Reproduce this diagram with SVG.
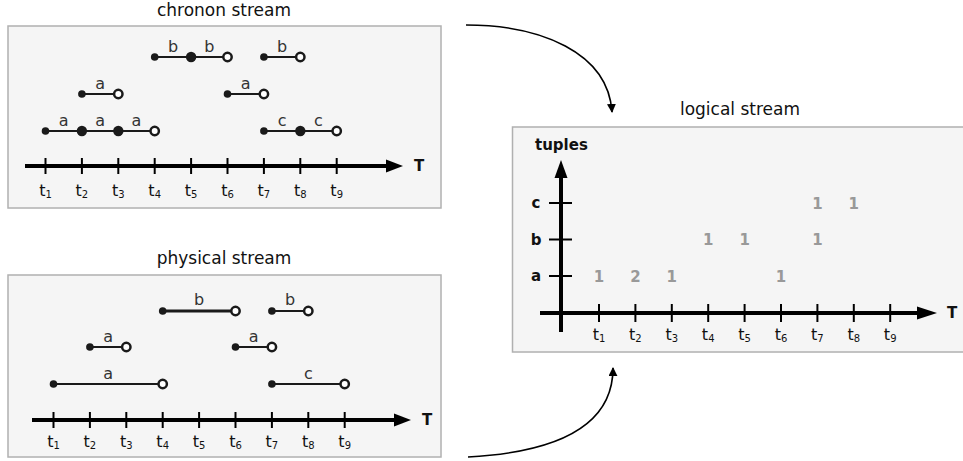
<svg xmlns="http://www.w3.org/2000/svg" width="963" height="461" viewBox="0 0 963 461">
<defs>
<style>
.panel{fill:#f5f5f5;stroke:#b0b0b0;stroke-width:1.5}
.title{font-family:"DejaVu Sans",Verdana,sans-serif;font-size:17px;fill:#111;text-anchor:middle}
.axis{stroke:#000;stroke-width:4;fill:none}
.tick{stroke:#000;stroke-width:2}
.tl{font-family:"DejaVu Sans",Verdana,sans-serif;font-size:16px;fill:#111;text-anchor:middle}
.sub{font-size:10px}
.seg{stroke:#1a1a1a;stroke-width:2;fill:none}
.segt{stroke:#1a1a1a;stroke-width:3;fill:none}
.dot{fill:#1a1a1a}
.open{fill:#fff;stroke:#1a1a1a;stroke-width:2.5}
.lab{font-family:"DejaVu Sans",Verdana,sans-serif;font-size:16px;fill:#333;text-anchor:middle}
.bold{font-family:"DejaVu Sans",Verdana,sans-serif;font-size:15px;font-weight:bold;fill:#111}
.num{font-family:"DejaVu Sans",Verdana,sans-serif;font-size:15px;font-weight:bold;fill:#999;text-anchor:middle}
.flow{stroke:#000;stroke-width:1.6;fill:none}
</style>
<marker id="ah" viewBox="0 0 10 10" refX="9" refY="5" markerWidth="9" markerHeight="9" markerUnits="userSpaceOnUse" orient="auto"><path d="M0,0 L10,5 L0,10 z" fill="#000"/></marker>
</defs>
<rect width="963" height="461" fill="#fff"/>

<g id="chronon">
<text class="title" x="224" y="16">chronon stream</text>
<rect class="panel" x="8" y="26" width="433" height="182"/>
<line class="axis" x1="25" y1="166" x2="390" y2="166"/>
<polygon points="386,159.5 403,166 386,172.5" fill="#000"/>
<text class="bold" x="414" y="171">T</text>
<g class="tick">
<line x1="45.5" y1="158" x2="45.5" y2="174"/><line x1="81.9" y1="158" x2="81.9" y2="174"/><line x1="118.3" y1="158" x2="118.3" y2="174"/><line x1="154.7" y1="158" x2="154.7" y2="174"/><line x1="191.1" y1="158" x2="191.1" y2="174"/><line x1="227.5" y1="158" x2="227.5" y2="174"/><line x1="263.9" y1="158" x2="263.9" y2="174"/><line x1="300.3" y1="158" x2="300.3" y2="174"/><line x1="336.7" y1="158" x2="336.7" y2="174"/>
</g>
<text class="tl" x="45.5" y="196">t<tspan class="sub" dy="2">1</tspan></text>
<text class="tl" x="81.9" y="196">t<tspan class="sub" dy="2">2</tspan></text>
<text class="tl" x="118.3" y="196">t<tspan class="sub" dy="2">3</tspan></text>
<text class="tl" x="154.7" y="196">t<tspan class="sub" dy="2">4</tspan></text>
<text class="tl" x="191.1" y="196">t<tspan class="sub" dy="2">5</tspan></text>
<text class="tl" x="227.5" y="196">t<tspan class="sub" dy="2">6</tspan></text>
<text class="tl" x="263.9" y="196">t<tspan class="sub" dy="2">7</tspan></text>
<text class="tl" x="300.3" y="196">t<tspan class="sub" dy="2">8</tspan></text>
<text class="tl" x="336.7" y="196">t<tspan class="sub" dy="2">9</tspan></text>
<line class="seg" x1="154.7" y1="57" x2="227.5" y2="57"/>
<circle class="dot" cx="154.7" cy="57" r="3.8"/><circle class="dot" cx="191.1" cy="57" r="5.2"/><circle class="open" cx="227.5" cy="57" r="4.2"/>
<text class="lab" x="173" y="52">b</text><text class="lab" x="209.3" y="52">b</text>
<line class="seg" x1="263.9" y1="57" x2="300.3" y2="57"/>
<circle class="dot" cx="263.9" cy="57" r="3.8"/><circle class="open" cx="300.3" cy="57" r="4.2"/>
<text class="lab" x="282.1" y="52">b</text>
<line class="seg" x1="81.9" y1="94" x2="118.3" y2="94"/>
<circle class="dot" cx="81.9" cy="94" r="3.8"/><circle class="open" cx="118.3" cy="94" r="4.2"/>
<text class="lab" x="100.1" y="89">a</text>
<line class="seg" x1="227.5" y1="94" x2="263.9" y2="94"/>
<circle class="dot" cx="227.5" cy="94" r="3.8"/><circle class="open" cx="263.9" cy="94" r="4.2"/>
<text class="lab" x="245.7" y="89">a</text>
<line class="seg" x1="45.5" y1="131" x2="154.7" y2="131"/>
<circle class="dot" cx="45.5" cy="131" r="3.8"/><circle class="dot" cx="81.9" cy="131" r="5.2"/><circle class="dot" cx="118.3" cy="131" r="5.2"/><circle class="open" cx="154.7" cy="131" r="4.2"/>
<text class="lab" x="63.7" y="126">a</text><text class="lab" x="100.1" y="126">a</text><text class="lab" x="136.5" y="126">a</text>
<line class="seg" x1="263.9" y1="131" x2="336.7" y2="131"/>
<circle class="dot" cx="263.9" cy="131" r="3.8"/><circle class="dot" cx="300.3" cy="131" r="5.2"/><circle class="open" cx="336.7" cy="131" r="4.2"/>
<text class="lab" x="282.1" y="126">c</text><text class="lab" x="318.5" y="126">c</text>
</g>

<g id="physical">
<text class="title" x="224" y="264">physical stream</text>
<rect class="panel" x="8" y="275" width="433" height="182"/>
<line class="axis" x1="32" y1="420" x2="397" y2="420"/>
<polygon points="394,413.5 411,420 394,426.5" fill="#000"/>
<text class="bold" x="422" y="425">T</text>
<g class="tick">
<line x1="53.5" y1="412" x2="53.5" y2="428"/><line x1="89.9" y1="412" x2="89.9" y2="428"/><line x1="126.3" y1="412" x2="126.3" y2="428"/><line x1="162.7" y1="412" x2="162.7" y2="428"/><line x1="199.1" y1="412" x2="199.1" y2="428"/><line x1="235.5" y1="412" x2="235.5" y2="428"/><line x1="271.9" y1="412" x2="271.9" y2="428"/><line x1="308.3" y1="412" x2="308.3" y2="428"/><line x1="344.7" y1="412" x2="344.7" y2="428"/>
</g>
<text class="tl" x="53.5" y="447">t<tspan class="sub" dy="2">1</tspan></text>
<text class="tl" x="89.9" y="447">t<tspan class="sub" dy="2">2</tspan></text>
<text class="tl" x="126.3" y="447">t<tspan class="sub" dy="2">3</tspan></text>
<text class="tl" x="162.7" y="447">t<tspan class="sub" dy="2">4</tspan></text>
<text class="tl" x="199.1" y="447">t<tspan class="sub" dy="2">5</tspan></text>
<text class="tl" x="235.5" y="447">t<tspan class="sub" dy="2">6</tspan></text>
<text class="tl" x="271.9" y="447">t<tspan class="sub" dy="2">7</tspan></text>
<text class="tl" x="308.3" y="447">t<tspan class="sub" dy="2">8</tspan></text>
<text class="tl" x="344.7" y="447">t<tspan class="sub" dy="2">9</tspan></text>
<line class="segt" x1="162.7" y1="311" x2="235.5" y2="311"/>
<circle class="dot" cx="162.7" cy="311" r="3.8"/><circle class="open" cx="235.5" cy="311" r="4.2"/>
<text class="lab" x="199.1" y="305">b</text>
<line class="seg" x1="271.9" y1="311" x2="308.3" y2="311"/>
<circle class="dot" cx="271.9" cy="311" r="3.8"/><circle class="open" cx="308.3" cy="311" r="4.2"/>
<text class="lab" x="290.1" y="305">b</text>
<line class="seg" x1="89.9" y1="347" x2="126.3" y2="347"/>
<circle class="dot" cx="89.9" cy="347" r="3.8"/><circle class="open" cx="126.3" cy="347" r="4.2"/>
<text class="lab" x="108.1" y="342">a</text>
<line class="seg" x1="235.5" y1="347" x2="271.9" y2="347"/>
<circle class="dot" cx="235.5" cy="347" r="3.8"/><circle class="open" cx="271.9" cy="347" r="4.2"/>
<text class="lab" x="253.7" y="342">a</text>
<line class="seg" x1="53.5" y1="384" x2="162.7" y2="384"/>
<circle class="dot" cx="53.5" cy="384" r="3.8"/><circle class="open" cx="162.7" cy="384" r="4.2"/>
<text class="lab" x="108.1" y="379">a</text>
<line class="seg" x1="271.9" y1="384" x2="344.7" y2="384"/>
<circle class="dot" cx="271.9" cy="384" r="3.8"/><circle class="open" cx="344.7" cy="384" r="4.2"/>
<text class="lab" x="308.3" y="379">c</text>
</g>

<g id="logical">
<text class="title" x="740" y="115">logical stream</text>
<rect class="panel" x="512.5" y="127" width="460" height="225"/>
<line class="axis" x1="540" y1="313" x2="920" y2="313"/>
<polygon points="917,306.5 937,313 917,319.5" fill="#000"/>
<text class="bold" x="947" y="318">T</text>
<line class="axis" x1="561" y1="332" x2="561" y2="176"/>
<polygon points="554.5,178 561,160 567.5,178" fill="#000"/>
<text class="bold" x="535" y="150">tuples</text>
<g class="tick">
<line x1="549" y1="203" x2="572" y2="203"/><line x1="549" y1="239.5" x2="572" y2="239.5"/><line x1="549" y1="276" x2="572" y2="276"/>
<line x1="599" y1="304" x2="599" y2="322"/><line x1="635.4" y1="304" x2="635.4" y2="322"/><line x1="671.8" y1="304" x2="671.8" y2="322"/><line x1="708.2" y1="304" x2="708.2" y2="322"/><line x1="744.6" y1="304" x2="744.6" y2="322"/><line x1="781" y1="304" x2="781" y2="322"/><line x1="817.4" y1="304" x2="817.4" y2="322"/><line x1="853.8" y1="304" x2="853.8" y2="322"/><line x1="890.2" y1="304" x2="890.2" y2="322"/>
</g>
<text class="bold" x="536" y="208" text-anchor="middle">c</text>
<text class="bold" x="536" y="244.5" text-anchor="middle">b</text>
<text class="bold" x="536" y="281" text-anchor="middle">a</text>
<text class="tl" x="599" y="340">t<tspan class="sub" dy="2">1</tspan></text>
<text class="tl" x="635.4" y="340">t<tspan class="sub" dy="2">2</tspan></text>
<text class="tl" x="671.8" y="340">t<tspan class="sub" dy="2">3</tspan></text>
<text class="tl" x="708.2" y="340">t<tspan class="sub" dy="2">4</tspan></text>
<text class="tl" x="744.6" y="340">t<tspan class="sub" dy="2">5</tspan></text>
<text class="tl" x="781" y="340">t<tspan class="sub" dy="2">6</tspan></text>
<text class="tl" x="817.4" y="340">t<tspan class="sub" dy="2">7</tspan></text>
<text class="tl" x="853.8" y="340">t<tspan class="sub" dy="2">8</tspan></text>
<text class="tl" x="890.2" y="340">t<tspan class="sub" dy="2">9</tspan></text>
<text class="num" x="599" y="281.5">1</text>
<text class="num" x="635.4" y="281.5">2</text>
<text class="num" x="671.8" y="281.5">1</text>
<text class="num" x="781" y="281.5">1</text>
<text class="num" x="708.2" y="245">1</text>
<text class="num" x="744.6" y="245">1</text>
<text class="num" x="817.4" y="245">1</text>
<text class="num" x="817.4" y="208.5">1</text>
<text class="num" x="853.8" y="208.5">1</text>
</g>

<g id="connectors">
<path class="flow" d="M466,25 C540,25 608,52 612,112" marker-end="url(#ah)"/>
<path class="flow" d="M468,457 C560,452 613,425 613,368" marker-end="url(#ah)"/>
</g>
</svg>
